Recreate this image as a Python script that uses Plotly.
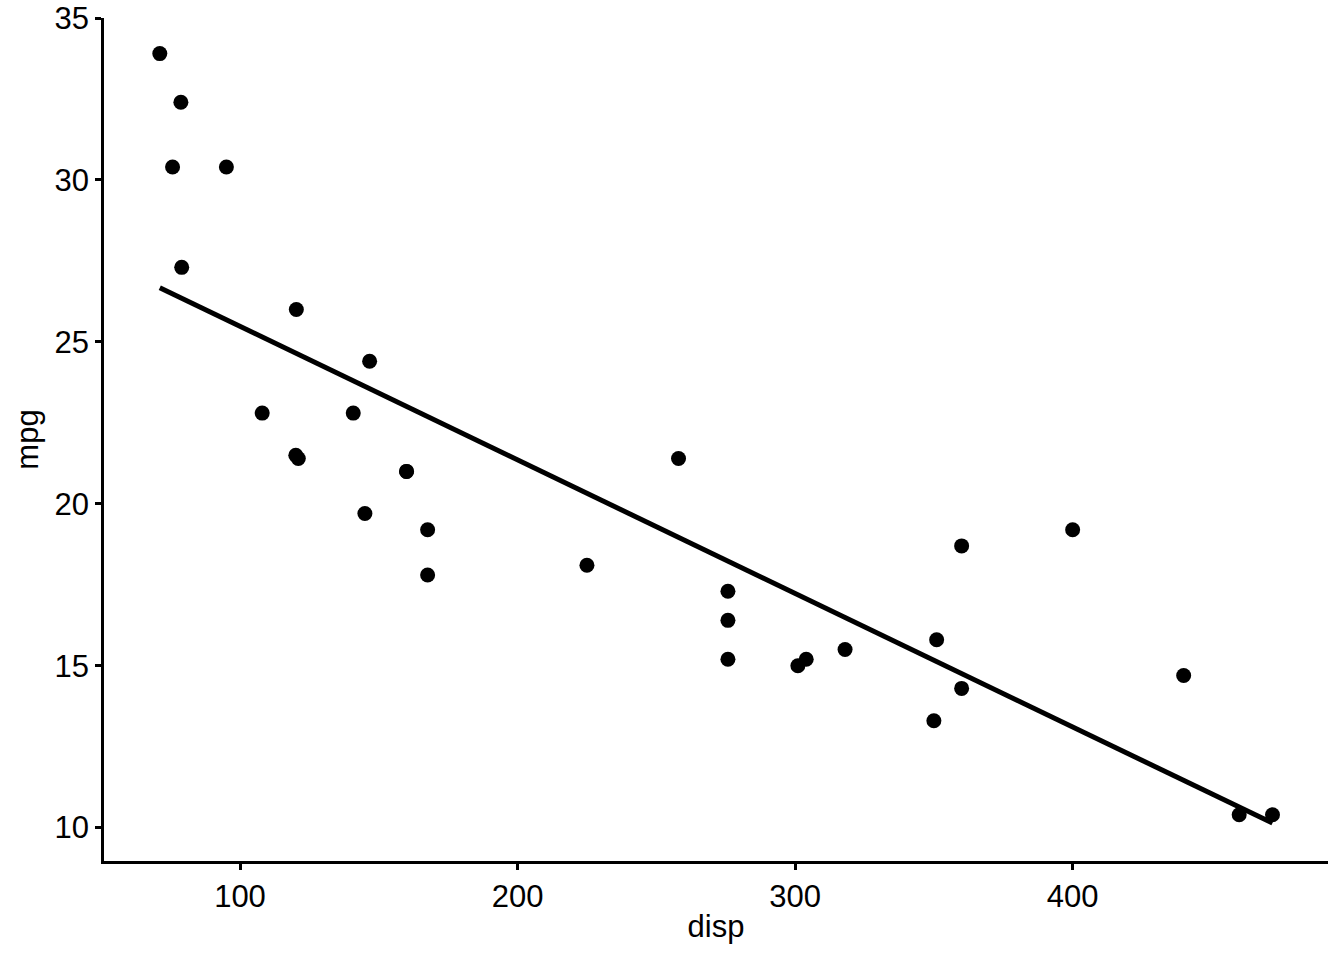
import plotly.graph_objects as go

# mtcars: displacement vs miles per gallon
disp = [160, 160, 108, 258, 360, 225, 360, 146.7, 140.8, 167.6, 167.6,
        275.8, 275.8, 275.8, 472, 460, 440, 78.7, 75.7, 71.1, 120.1, 318,
        304, 350, 400, 79, 120.3, 95.1, 351, 145, 301, 121]
mpg = [21.0, 21.0, 22.8, 21.4, 18.7, 18.1, 14.3, 24.4, 22.8, 19.2, 17.8,
       16.4, 17.3, 15.2, 10.4, 10.4, 14.7, 32.4, 30.4, 33.9, 21.5, 15.5,
       15.2, 13.3, 19.2, 27.3, 26.0, 30.4, 15.8, 19.7, 15.0, 21.4]

# fitted line end points
fit_disp = [71.1, 472]
fit_mpg = [26.67, 10.14]

x_ticks = [100, 200, 300, 400]
y_ticks = [10, 15, 20, 25, 30, 35]

font = "Liberation Sans, Arial, sans-serif"

fig = go.Figure()
fig.add_trace(
    go.Scatter(
        x=disp,
        y=mpg,
        mode="markers",
        marker={"size": 15, "color": "black"},
        showlegend=False,
    )
)
fig.add_trace(
    go.Scatter(
        x=fit_disp,
        y=fit_mpg,
        mode="lines",
        line={"color": "black", "width": 5},
        showlegend=False,
    )
)

axis_common = dict(
    showgrid=False,
    zeroline=False,
    showline=True,
    linecolor="black",
    linewidth=2.5,
    ticks="outside",
    ticklen=6,
    tickwidth=2.5,
    tickcolor="black",
    automargin=False,
    ticklabeloverflow="allow",
    tickfont={"family": font, "size": 31, "color": "black"},
)

fig.update_layout(
    width=1344,
    height=960,
    plot_bgcolor="white",
    paper_bgcolor="white",
    margin={"l": 104, "r": 16, "t": 18, "b": 99},
    font={"family": font, "color": "black"},
    xaxis=dict(
        axis_common,
        range=[51.0, 492.0],
        tickvals=x_ticks,
        title={"text": "disp", "font": {"family": font, "size": 31}, "standoff": 3},
    ),
    yaxis=dict(
        axis_common,
        range=[8.97, 35.0],
        tickvals=y_ticks,
        title={"text": "mpg", "font": {"family": font, "size": 31}, "standoff": 7},
    ),
)

# drop the default 8px page margin so the figure fills the window
fig.write_html(
    "out.html",
    config={"displayModeBar": False},
    post_script="document.body.style.margin = '0';",
)
